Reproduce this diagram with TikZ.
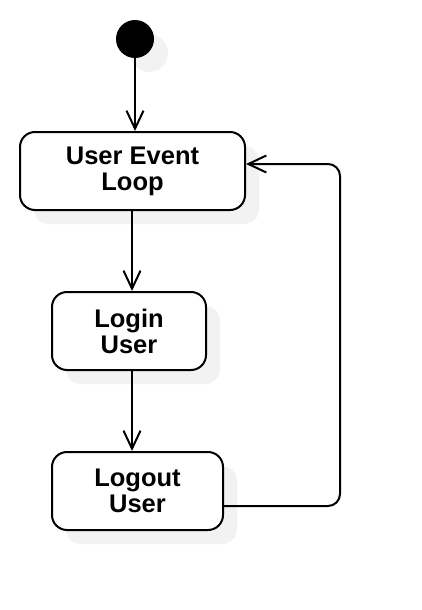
\documentclass[tikz,border=0pt]{standalone}
\usepackage{fontspec}
\setmainfont{Liberation Sans}
\usetikzlibrary{arrows.meta,shadows}
\definecolor{shadowgray}{RGB}{242,242,242}
\begin{document}
\begin{tikzpicture}[x=1pt,y=-1pt,
  myshadow/.style={drop shadow={shadow xshift=14pt, shadow yshift=-14pt, fill=shadowgray, opacity=1}},
  state/.style={draw, line width=2pt, rounded corners=15pt, fill=white, align=center, inner sep=0pt,
    font=\fontsize{25.5}{26}\selectfont\bfseries, myshadow},
  flow/.style={line width=2pt, -{Straight Barb[length=18pt,width=17pt,line width=2pt]}}]
\useasboundingbox (0,0) rectangle (422,610);
\node[circle, fill=black, minimum size=38pt, inner sep=0pt, myshadow] (start) at (135,39) {};
\node[state, minimum width=225pt, minimum height=78pt] (loop) at (132.5,171) {User Event\\Loop};
\node[state, minimum width=154pt, minimum height=78pt] (login) at (129,331) {Login\\User};
\node[state, minimum width=171pt, minimum height=78pt] (logout) at (137.5,491) {Logout\\User};
\coordinate (cx) at (132,0);
\coordinate (rx) at (340,0);
\draw[flow] (start) -- (start |- loop.north);
\draw[flow] (loop.south -| cx) -- (login.north -| cx);
\draw[flow] (login.south -| cx) -- (logout.north -| cx);
\coordinate (loopin) at ([yshift=7pt]loop.east);
\coordinate (logoutout) at ([yshift=-15pt]logout.east);
\draw[flow, rounded corners=12pt] (logoutout) -- (logoutout -| rx) -- (loopin -| rx) -- (loopin);
\end{tikzpicture}
\end{document}
